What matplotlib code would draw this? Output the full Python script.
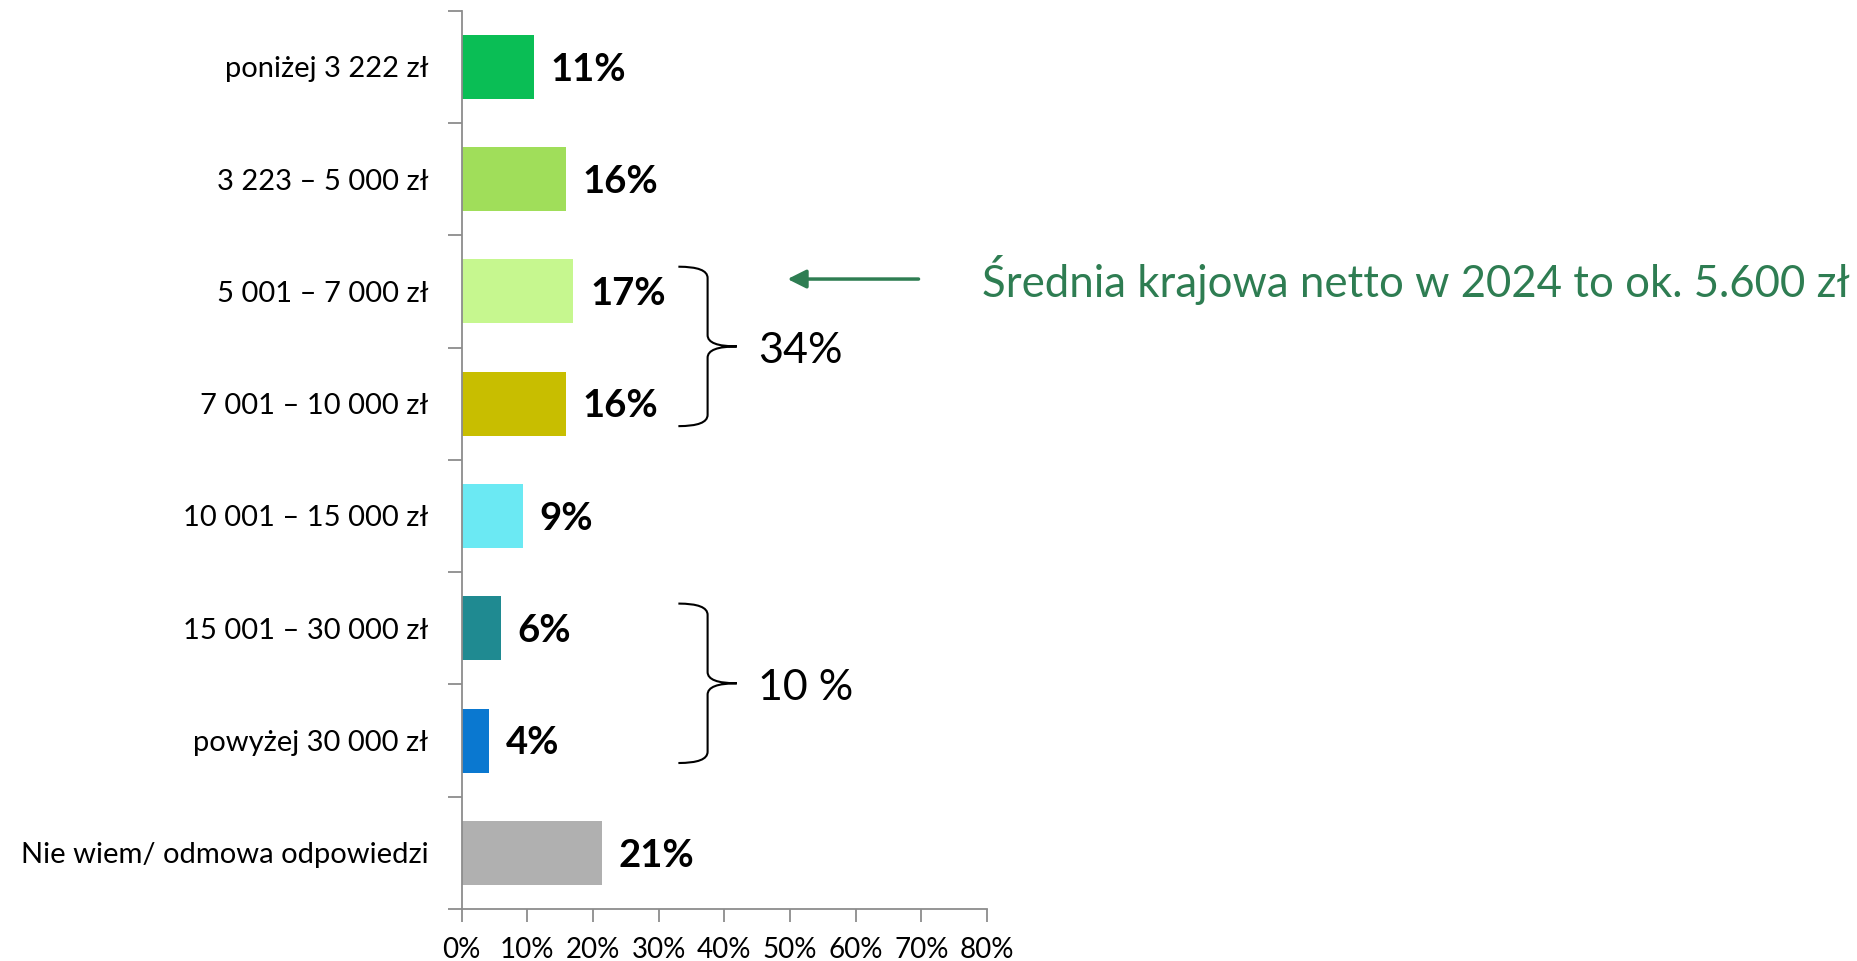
import numpy as np
import matplotlib.pyplot as plt
from matplotlib.path import Path
from matplotlib.patches import PathPatch

plt.rcParams['font.family'] = ['Lato', 'DejaVu Sans']

categories = ['poniżej 3 222 zł', '3 223 – 5 000 zł', '5 001 – 7 000 zł', '7 001 – 10 000 zł',
              '10 001 – 15 000 zł', '15 001 – 30 000 zł', 'powyżej 30 000 zł',
              'Nie wiem/ odmowa odpowiedzi']
values = [11.0, 15.9, 17.0, 15.9, 9.3, 6.0, 4.2, 21.3]
colors = ['#0ABE55', '#A0DE5A', '#C6F78F', '#C8BE00', '#6BE9F3', '#1F8A91', '#0A78D0', '#B0B0B0']
x_ticks = [0, 10, 20, 30, 40, 50, 60, 70, 80]
groups = [(2, 3, '34%'), (5, 6, '10 %')]
note = 'Średnia krajowa netto w 2024 to ok. 5.600 zł'
green = '#2E7D52'

fig = plt.figure(figsize=(18.58, 9.61), dpi=100)
ax = fig.add_axes([0.2485, 0.0541, 0.5312 - 0.2485, 0.9889 - 0.0541])

y = np.arange(len(categories))
ax.barh(y, values, height=0.57, color=colors)
ax.set_ylim(len(categories) - 0.5, -0.5)
ax.set_xlim(0, 80)

for yi, v in zip(y, values):
    ax.annotate(f'{round(v)}%', (v, yi), xytext=(12, -2), textcoords='offset points',
                va='center', ha='left', fontsize=27.5, fontweight='bold')

# axes styling (Excel-like)
for s in ['top', 'right']:
    ax.spines[s].set_visible(False)
for s in ['left', 'bottom']:
    ax.spines[s].set_color('#8C8C8C')
    ax.spines[s].set_linewidth(1.3)

ax.set_yticks(y)
ax.set_yticklabels(categories, fontsize=21)
ax.tick_params(axis='y', length=0, pad=24)
ax.set_yticks(np.arange(len(categories) + 1) - 0.5, minor=True)
ax.tick_params(axis='y', which='minor', length=10, width=1.3, color='#8C8C8C', direction='out')

ax.set_xticks(x_ticks)
ax.set_xticklabels([f'{t}%' for t in x_ticks], fontsize=20)
ax.tick_params(axis='x', length=9, width=1.3, color='#8C8C8C', direction='out', pad=11)

# curly braces for grouped categories
def brace(ax, y0, y1, x0, w):
    ym = (y0 + y1) / 2
    xv = x0 + w * 0.5
    xt = x0 + w
    d = 0.1
    verts = [(x0, y0), (xv, y0), (xv, y0 + d), (xv, y0 + d),
             (xv, ym - d), (xv, ym), (xt, ym), (xv, ym), (xv, ym + d),
             (xv, y1 - d), (xv, y1 - d), (xv, y1), (x0, y1)]
    codes = [Path.MOVETO, Path.CURVE3, Path.CURVE3, Path.LINETO,
             Path.LINETO, Path.CURVE3, Path.CURVE3, Path.CURVE3, Path.CURVE3,
             Path.LINETO, Path.LINETO, Path.CURVE3, Path.CURVE3]
    ax.add_patch(PathPatch(Path(verts, codes), fill=False, lw=1.5, color='black', clip_on=False))

for lo, hi, lab in groups:
    brace(ax, lo - 0.22, hi + 0.2, 33.0, 8.9)
    ax.text(45.1, (lo + hi) / 2 + 0.03, lab, fontsize=31, va='center', ha='left', clip_on=False)

# arrow and note about national average
ax.annotate('', xy=(49.2, 1.89), xytext=(70.0, 1.89),
            arrowprops=dict(arrowstyle='-|>', color=green, lw=2.5, mutation_scale=28),
            annotation_clip=False)
ax.text(79.3, 1.9, note, color=green, fontsize=31.5, va='center', ha='left', clip_on=False)

plt.savefig('out.png', dpi=100)
